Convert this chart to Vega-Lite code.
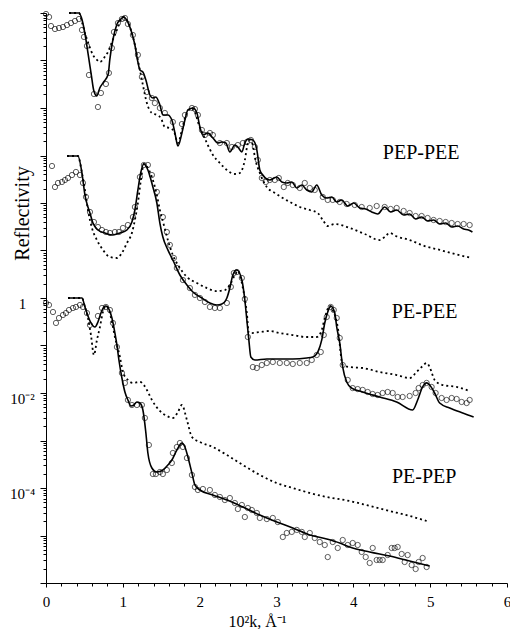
{
"$schema": "https://vega.github.io/schema/vega-lite/v6.json",
"width": 461, "height": 570,
"autosize": "none",
"padding": {"left": 46, "top": 13, "right": 3, "bottom": 46},
"background": "white",
"config": {"view": {"stroke": null},
 "axis": {"domainColor": "black", "tickColor": "black", "labelColor": "black", "titleColor": "black", "grid": false, "labelFont": "Liberation Serif", "titleFont": "Liberation Serif", "titleFontWeight": "normal", "domainWidth": 1, "tickWidth": 1}},
"resolve": {"axis": {"x": "independent", "y": "independent"}},
"datasets": {
"fit": [
{"s":"PEP-PEE","k":0.30,"r":1e6},{"s":"PEP-PEE","k":0.43,"r":1e6},{"s":"PEP-PEE","k":0.47,"r":7.13e5},{"s":"PEP-PEE","k":0.51,"r":3.44e5},{"s":"PEP-PEE","k":0.55,"r":1.31e5},{"s":"PEP-PEE","k":0.59,"r":4.95e4},{"s":"PEP-PEE","k":0.62,"r":2.39e4},{"s":"PEP-PEE","k":0.66,"r":1.79e4},{"s":"PEP-PEE","k":0.70,"r":2.64e4},{"s":"PEP-PEE","k":0.75,"r":3.52e4},{"s":"PEP-PEE","k":0.81,"r":5.2e4},{"s":"PEP-PEE","k":0.83,"r":1.03e5},{"s":"PEP-PEE","k":0.87,"r":2.7e5},{"s":"PEP-PEE","k":0.92,"r":5.58e5},{"s":"PEP-PEE","k":0.975,"r":7.48e5},{"s":"PEP-PEE","k":1.01,"r":8.24e5},{"s":"PEP-PEE","k":1.05,"r":7.13e5},{"s":"PEP-PEE","k":1.105,"r":4.39e5},{"s":"PEP-PEE","k":1.157,"r":2.12e5},{"s":"PEP-PEE","k":1.196,"r":9.3e4},{"s":"PEP-PEE","k":1.222,"r":6.31e4},{"s":"PEP-PEE","k":1.261,"r":5.73e4},{"s":"PEP-PEE","k":1.30,"r":3.88e4},{"s":"PEP-PEE","k":1.352,"r":1.88e4},{"s":"PEP-PEE","k":1.391,"r":1.62e4},{"s":"PEP-PEE","k":1.43,"r":1.71e4},{"s":"PEP-PEE","k":1.482,"r":1.16e4},{"s":"PEP-PEE","k":1.521,"r":7.13e3},{"s":"PEP-PEE","k":1.586,"r":7.13e3},{"s":"PEP-PEE","k":1.638,"r":5.58e3},{"s":"PEP-PEE","k":1.678,"r":2.98e3},{"s":"PEP-PEE","k":1.717,"r":1.58e3},{"s":"PEP-PEE","k":1.769,"r":2.98e3},{"s":"PEP-PEE","k":1.808,"r":5.58e3},{"s":"PEP-PEE","k":1.847,"r":9.08e3},{"s":"PEP-PEE","k":1.912,"r":1e4},{"s":"PEP-PEE","k":1.964,"r":7.85e3},{"s":"PEP-PEE","k":2.003,"r":3.98e3},{"s":"PEP-PEE","k":2.042,"r":2.7e3},{"s":"PEP-PEE","k":2.107,"r":2.98e3},{"s":"PEP-PEE","k":2.172,"r":2.34e3},{"s":"PEP-PEE","k":2.237,"r":1.83e3},{"s":"PEP-PEE","k":2.289,"r":1.92e3},{"s":"PEP-PEE","k":2.341,"r":1.83e3},{"s":"PEP-PEE","k":2.393,"r":1.19e3},{"s":"PEP-PEE","k":2.458,"r":1.66e3},{"s":"PEP-PEE","k":2.497,"r":1.51e3},{"s":"PEP-PEE","k":2.549,"r":1.19e3},{"s":"PEP-PEE","k":2.588,"r":1.83e3},{"s":"PEP-PEE","k":2.627,"r":2.22e3},{"s":"PEP-PEE","k":2.692,"r":2.12e3},{"s":"PEP-PEE","k":2.744,"r":1.31e3},{"s":"PEP-PEE","k":2.783,"r":495},{"s":"PEP-PEE","k":2.822,"r":388},{"s":"PEP-PEE","k":2.913,"r":305},{"s":"PEP-PEE","k":3.004,"r":352},{"s":"PEP-PEE","k":3.069,"r":277},{"s":"PEP-PEE","k":3.134,"r":264},{"s":"PEP-PEE","k":3.199,"r":277},{"s":"PEP-PEE","k":3.264,"r":207},{"s":"PEP-PEE","k":3.329,"r":239},{"s":"PEP-PEE","k":3.394,"r":188},{"s":"PEP-PEE","k":3.459,"r":171},{"s":"PEP-PEE","k":3.524,"r":239},{"s":"PEP-PEE","k":3.589,"r":147},{"s":"PEP-PEE","k":3.654,"r":127},{"s":"PEP-PEE","k":3.719,"r":134},{"s":"PEP-PEE","k":3.784,"r":105},{"s":"PEP-PEE","k":3.849,"r":116},{"s":"PEP-PEE","k":3.927,"r":86.5},{"s":"PEP-PEE","k":4.005,"r":100},{"s":"PEP-PEE","k":4.083,"r":78.5},{"s":"PEP-PEE","k":4.161,"r":74.8},{"s":"PEP-PEE","k":4.239,"r":64.7},{"s":"PEP-PEE","k":4.317,"r":58.7},{"s":"PEP-PEE","k":4.408,"r":82.4},{"s":"PEP-PEE","k":4.486,"r":64.7},{"s":"PEP-PEE","k":4.564,"r":71.3},{"s":"PEP-PEE","k":4.655,"r":55.9},{"s":"PEP-PEE","k":4.733,"r":58.7},{"s":"PEP-PEE","k":4.811,"r":46},{"s":"PEP-PEE","k":4.889,"r":50.7},{"s":"PEP-PEE","k":4.967,"r":41.8},{"s":"PEP-PEE","k":5.045,"r":43.9},{"s":"PEP-PEE","k":5.124,"r":36.1},{"s":"PEP-PEE","k":5.202,"r":37.9},{"s":"PEP-PEE","k":5.28,"r":31.2},{"s":"PEP-PEE","k":5.358,"r":32.8},{"s":"PEP-PEE","k":5.436,"r":28.4},{"s":"PEP-PEE","k":5.5,"r":27},{"s":"PEP-PEE","k":5.55,"r":24.5},
{"s":"PE-PEE","k":0.273,"r":975},{"s":"PE-PEE","k":0.416,"r":975},{"s":"PE-PEE","k":0.468,"r":428},{"s":"PE-PEE","k":0.507,"r":147},{"s":"PE-PEE","k":0.546,"r":82.4},{"s":"PE-PEE","k":0.572,"r":61.5},{"s":"PE-PEE","k":0.611,"r":37.9},{"s":"PE-PEE","k":0.676,"r":27},{"s":"PE-PEE","k":0.767,"r":23.4},{"s":"PE-PEE","k":0.871,"r":21.2},{"s":"PE-PEE","k":0.962,"r":23.4},{"s":"PE-PEE","k":1.053,"r":27},{"s":"PE-PEE","k":1.118,"r":39.8},{"s":"PE-PEE","k":1.157,"r":71.3},{"s":"PE-PEE","k":1.196,"r":188},{"s":"PE-PEE","k":1.235,"r":450},{"s":"PE-PEE","k":1.274,"r":662},{"s":"PE-PEE","k":1.326,"r":495},{"s":"PE-PEE","k":1.391,"r":217},{"s":"PE-PEE","k":1.443,"r":100},{"s":"PE-PEE","k":1.482,"r":37.9},{"s":"PE-PEE","k":1.521,"r":19.2},{"s":"PE-PEE","k":1.586,"r":10.3},{"s":"PE-PEE","k":1.651,"r":6.31},{"s":"PE-PEE","k":1.743,"r":3.05},{"s":"PE-PEE","k":1.834,"r":1.88},{"s":"PE-PEE","k":1.912,"r":1.34},{"s":"PE-PEE","k":2.029,"r":1.0},{"s":"PE-PEE","k":2.133,"r":0.785},{"s":"PE-PEE","k":2.224,"r":0.713},{"s":"PE-PEE","k":2.289,"r":0.748},{"s":"PE-PEE","k":2.354,"r":1.0},{"s":"PE-PEE","k":2.393,"r":1.62},{"s":"PE-PEE","k":2.432,"r":3.05},{"s":"PE-PEE","k":2.484,"r":3.88},{"s":"PE-PEE","k":2.549,"r":2.39},{"s":"PE-PEE","k":2.588,"r":0.908},{"s":"PE-PEE","k":2.614,"r":0.344},{"s":"PE-PEE","k":2.64,"r":0.131},{"s":"PE-PEE","k":2.666,"r":0.0573},{"s":"PE-PEE","k":2.718,"r":0.0495},{"s":"PE-PEE","k":2.874,"r":0.052},{"s":"PE-PEE","k":3.043,"r":0.052},{"s":"PE-PEE","k":3.212,"r":0.052},{"s":"PE-PEE","k":3.394,"r":0.0546},{"s":"PE-PEE","k":3.472,"r":0.0573},{"s":"PE-PEE","k":3.537,"r":0.073},{"s":"PE-PEE","k":3.589,"r":0.131},{"s":"PE-PEE","k":3.628,"r":0.298},{"s":"PE-PEE","k":3.667,"r":0.507},{"s":"PE-PEE","k":3.706,"r":0.679},{"s":"PE-PEE","k":3.758,"r":0.483},{"s":"PE-PEE","k":3.784,"r":0.245},{"s":"PE-PEE","k":3.823,"r":0.113},{"s":"PE-PEE","k":3.862,"r":0.0352},{"s":"PE-PEE","k":3.914,"r":0.0171},{"s":"PE-PEE","k":3.979,"r":0.0127},{"s":"PE-PEE","k":4.122,"r":0.0105},{"s":"PE-PEE","k":4.343,"r":0.00824},{"s":"PE-PEE","k":4.564,"r":0.00647},{"s":"PE-PEE","k":4.772,"r":0.00439},{"s":"PE-PEE","k":4.837,"r":0.00713},{"s":"PE-PEE","k":4.902,"r":0.0134},{"s":"PE-PEE","k":4.954,"r":0.0163},{"s":"PE-PEE","k":4.993,"r":0.0147},{"s":"PE-PEE","k":5.058,"r":0.01},{"s":"PE-PEE","k":5.124,"r":0.00615},{"s":"PE-PEE","k":5.254,"r":0.00483},{"s":"PE-PEE","k":5.423,"r":0.00379},{"s":"PE-PEE","k":5.566,"r":0.00313},
{"s":"PE-PEP","k":0.286,"r":1.0},{"s":"PE-PEP","k":0.468,"r":1.0},{"s":"PE-PEP","k":0.507,"r":0.647},{"s":"PE-PEP","k":0.546,"r":0.418},{"s":"PE-PEP","k":0.585,"r":0.298},{"s":"PE-PEP","k":0.637,"r":0.245},{"s":"PE-PEP","k":0.676,"r":0.313},{"s":"PE-PEP","k":0.715,"r":0.483},{"s":"PE-PEP","k":0.754,"r":0.647},{"s":"PE-PEP","k":0.78,"r":0.679},{"s":"PE-PEP","k":0.819,"r":0.586},{"s":"PE-PEP","k":0.858,"r":0.379},{"s":"PE-PEP","k":0.897,"r":0.183},{"s":"PE-PEP","k":0.923,"r":0.1025},{"s":"PE-PEP","k":0.949,"r":0.0495},{"s":"PE-PEP","k":0.988,"r":0.0207},{"s":"PE-PEP","k":1.027,"r":0.0105},{"s":"PE-PEP","k":1.066,"r":0.00713},{"s":"PE-PEP","k":1.105,"r":0.00532},{"s":"PE-PEP","k":1.144,"r":0.00559},{"s":"PE-PEP","k":1.183,"r":0.00647},{"s":"PE-PEP","k":1.222,"r":0.00615},{"s":"PE-PEP","k":1.261,"r":0.00439},{"s":"PE-PEP","k":1.30,"r":0.00144},{"s":"PE-PEP","k":1.326,"r":0.000546},{"s":"PE-PEP","k":1.378,"r":0.000264},{"s":"PE-PEP","k":1.443,"r":0.000217},{"s":"PE-PEP","k":1.521,"r":0.000239},{"s":"PE-PEP","k":1.586,"r":0.000305},{"s":"PE-PEP","k":1.638,"r":0.000388},{"s":"PE-PEP","k":1.703,"r":0.000631},{"s":"PE-PEP","k":1.769,"r":0.000886},{"s":"PE-PEP","k":1.808,"r":0.00073},{"s":"PE-PEP","k":1.847,"r":0.00045},{"s":"PE-PEP","k":1.899,"r":0.000207},{"s":"PE-PEP","k":1.938,"r":0.000116},{"s":"PE-PEP","k":2.003,"r":9.08e-5},{"s":"PE-PEP","k":2.172,"r":7.13e-5},{"s":"PE-PEP","k":2.354,"r":5.58e-5},{"s":"PE-PEP","k":2.562,"r":3.98e-5},{"s":"PE-PEP","k":2.783,"r":2.7e-5},{"s":"PE-PEP","k":3.004,"r":1.92e-5},{"s":"PE-PEP","k":3.212,"r":1.44e-5},{"s":"PE-PEP","k":3.433,"r":1.03e-5},{"s":"PE-PEP","k":3.654,"r":8.44e-6},{"s":"PE-PEP","k":3.823,"r":6.95e-6},{"s":"PE-PEP","k":3.953,"r":5.73e-6},{"s":"PE-PEP","k":4.213,"r":4.5e-6},{"s":"PE-PEP","k":4.473,"r":3.7e-6},{"s":"PE-PEP","k":4.733,"r":2.9e-6},{"s":"PE-PEP","k":4.993,"r":2.28e-6}
],
"model": [
{"s":"PEP-PEE","k":0.30,"r":1e6},{"s":"PEP-PEE","k":0.43,"r":1e6},{"s":"PEP-PEE","k":0.468,"r":6.47e5},{"s":"PEP-PEE","k":0.507,"r":3.79e5},{"s":"PEP-PEE","k":0.559,"r":2.12e5},{"s":"PEP-PEE","k":0.611,"r":1.31e5},{"s":"PEP-PEE","k":0.663,"r":1.03e5},{"s":"PEP-PEE","k":0.702,"r":9.3e4},{"s":"PEP-PEE","k":0.754,"r":1.13e5},{"s":"PEP-PEE","k":0.806,"r":1.51e5},{"s":"PEP-PEE","k":0.858,"r":2.45e5},{"s":"PEP-PEE","k":0.923,"r":4.39e5},{"s":"PEP-PEE","k":0.975,"r":7.13e5},{"s":"PEP-PEE","k":1.014,"r":8.24e5},{"s":"PEP-PEE","k":1.053,"r":7.13e5},{"s":"PEP-PEE","k":1.105,"r":4.39e5},{"s":"PEP-PEE","k":1.157,"r":2.12e5},{"s":"PEP-PEE","k":1.209,"r":8.04e4},{"s":"PEP-PEE","k":1.261,"r":3.05e4},{"s":"PEP-PEE","k":1.313,"r":1.27e4},{"s":"PEP-PEE","k":1.378,"r":7.85e3},{"s":"PEP-PEE","k":1.443,"r":7.13e3},{"s":"PEP-PEE","k":1.495,"r":6.15e3},{"s":"PEP-PEE","k":1.547,"r":3.98e3},{"s":"PEP-PEE","k":1.612,"r":3.79e3},{"s":"PEP-PEE","k":1.664,"r":3.28e3},{"s":"PEP-PEE","k":1.717,"r":1.83e3},{"s":"PEP-PEE","k":1.769,"r":3.44e3},{"s":"PEP-PEE","k":1.808,"r":6.15e3},{"s":"PEP-PEE","k":1.86,"r":9.08e3},{"s":"PEP-PEE","k":1.899,"r":1e4},{"s":"PEP-PEE","k":1.951,"r":7.13e3},{"s":"PEP-PEE","k":1.99,"r":4.39e3},{"s":"PEP-PEE","k":2.029,"r":3.13e3},{"s":"PEP-PEE","k":2.094,"r":1.83e3},{"s":"PEP-PEE","k":2.172,"r":1.03e3},{"s":"PEP-PEE","k":2.263,"r":695},{"s":"PEP-PEE","k":2.354,"r":495},{"s":"PEP-PEE","k":2.458,"r":408},{"s":"PEP-PEE","k":2.523,"r":428},{"s":"PEP-PEE","k":2.588,"r":804},{"s":"PEP-PEE","k":2.627,"r":1.83e3},{"s":"PEP-PEE","k":2.653,"r":2.12e3},{"s":"PEP-PEE","k":2.692,"r":1.66e3},{"s":"PEP-PEE","k":2.718,"r":929},{"s":"PEP-PEE","k":2.783,"r":428},{"s":"PEP-PEE","k":2.874,"r":217},{"s":"PEP-PEE","k":2.978,"r":163},{"s":"PEP-PEE","k":3.082,"r":127},{"s":"PEP-PEE","k":3.199,"r":100},{"s":"PEP-PEE","k":3.303,"r":82.4},{"s":"PEP-PEE","k":3.433,"r":71.3},{"s":"PEP-PEE","k":3.537,"r":61.5},{"s":"PEP-PEE","k":3.602,"r":43.9},{"s":"PEP-PEE","k":3.667,"r":32.8},{"s":"PEP-PEE","k":3.758,"r":36.1},{"s":"PEP-PEE","k":3.953,"r":29.8},{"s":"PEP-PEE","k":4.148,"r":22.3},{"s":"PEP-PEE","k":4.343,"r":16.6},{"s":"PEP-PEE","k":4.408,"r":19.2},{"s":"PEP-PEE","k":4.473,"r":23.4},{"s":"PEP-PEE","k":4.551,"r":20.2},{"s":"PEP-PEE","k":4.733,"r":16.6},{"s":"PEP-PEE","k":4.928,"r":12.4},{"s":"PEP-PEE","k":5.124,"r":10.3},{"s":"PEP-PEE","k":5.319,"r":8.44},{"s":"PEP-PEE","k":5.54,"r":6.95},
{"s":"PE-PEE","k":0.273,"r":975},{"s":"PE-PEE","k":0.416,"r":975},{"s":"PE-PEE","k":0.468,"r":428},{"s":"PE-PEE","k":0.507,"r":188},{"s":"PE-PEE","k":0.546,"r":71.3},{"s":"PE-PEE","k":0.598,"r":29.8},{"s":"PE-PEE","k":0.663,"r":16.6},{"s":"PE-PEE","k":0.741,"r":10.3},{"s":"PE-PEE","k":0.832,"r":7.29},{"s":"PE-PEE","k":0.923,"r":6.95},{"s":"PE-PEE","k":0.988,"r":8.86},{"s":"PE-PEE","k":1.053,"r":14.4},{"s":"PE-PEE","k":1.118,"r":23.4},{"s":"PE-PEE","k":1.157,"r":43.9},{"s":"PE-PEE","k":1.196,"r":100},{"s":"PE-PEE","k":1.235,"r":305},{"s":"PE-PEE","k":1.274,"r":662},{"s":"PE-PEE","k":1.326,"r":546},{"s":"PE-PEE","k":1.391,"r":305},{"s":"PE-PEE","k":1.443,"r":147},{"s":"PE-PEE","k":1.482,"r":71.3},{"s":"PE-PEE","k":1.534,"r":34.4},{"s":"PE-PEE","k":1.586,"r":16.6},{"s":"PE-PEE","k":1.651,"r":8.04},{"s":"PE-PEE","k":1.743,"r":4.28},{"s":"PE-PEE","k":1.834,"r":2.77},{"s":"PE-PEE","k":1.964,"r":2.07},{"s":"PE-PEE","k":2.094,"r":1.62},{"s":"PE-PEE","k":2.224,"r":1.4},{"s":"PE-PEE","k":2.328,"r":1.47},{"s":"PE-PEE","k":2.393,"r":1.88},{"s":"PE-PEE","k":2.458,"r":3.05},{"s":"PE-PEE","k":2.497,"r":3.7},{"s":"PE-PEE","k":2.562,"r":1.62},{"s":"PE-PEE","k":2.614,"r":0.483},{"s":"PE-PEE","k":2.64,"r":0.183},{"s":"PE-PEE","k":2.679,"r":0.183},{"s":"PE-PEE","k":2.783,"r":0.192},{"s":"PE-PEE","k":2.913,"r":0.202},{"s":"PE-PEE","k":3.043,"r":0.183},{"s":"PE-PEE","k":3.212,"r":0.166},{"s":"PE-PEE","k":3.394,"r":0.151},{"s":"PE-PEE","k":3.524,"r":0.151},{"s":"PE-PEE","k":3.589,"r":0.212},{"s":"PE-PEE","k":3.628,"r":0.379},{"s":"PE-PEE","k":3.693,"r":0.679},{"s":"PE-PEE","k":3.732,"r":0.559},{"s":"PE-PEE","k":3.797,"r":0.245},{"s":"PE-PEE","k":3.862,"r":0.0388},{"s":"PE-PEE","k":3.953,"r":0.0352},{"s":"PE-PEE","k":4.122,"r":0.0336},{"s":"PE-PEE","k":4.343,"r":0.0277},{"s":"PE-PEE","k":4.564,"r":0.0239},{"s":"PE-PEE","k":4.733,"r":0.0207},{"s":"PE-PEE","k":4.824,"r":0.0277},{"s":"PE-PEE","k":4.889,"r":0.0352},{"s":"PE-PEE","k":4.954,"r":0.0428},{"s":"PE-PEE","k":4.993,"r":0.0352},{"s":"PE-PEE","k":5.058,"r":0.0188},{"s":"PE-PEE","k":5.162,"r":0.0147},{"s":"PE-PEE","k":5.345,"r":0.0134},{"s":"PE-PEE","k":5.514,"r":0.011},
{"s":"PE-PEP","k":0.286,"r":1.0},{"s":"PE-PEP","k":0.468,"r":1.0},{"s":"PE-PEP","k":0.507,"r":0.647},{"s":"PE-PEP","k":0.546,"r":0.379},{"s":"PE-PEP","k":0.585,"r":0.166},{"s":"PE-PEP","k":0.624,"r":0.0631},{"s":"PE-PEP","k":0.663,"r":0.131},{"s":"PE-PEP","k":0.702,"r":0.245},{"s":"PE-PEP","k":0.741,"r":0.507},{"s":"PE-PEP","k":0.78,"r":0.679},{"s":"PE-PEP","k":0.819,"r":0.559},{"s":"PE-PEP","k":0.858,"r":0.313},{"s":"PE-PEP","k":0.897,"r":0.151},{"s":"PE-PEP","k":0.962,"r":0.0573},{"s":"PE-PEP","k":1.001,"r":0.0277},{"s":"PE-PEP","k":1.066,"r":0.0188},{"s":"PE-PEP","k":1.131,"r":0.0163},{"s":"PE-PEP","k":1.222,"r":0.0171},{"s":"PE-PEP","k":1.274,"r":0.0147},{"s":"PE-PEP","k":1.313,"r":0.0116},{"s":"PE-PEP","k":1.378,"r":0.00713},{"s":"PE-PEP","k":1.482,"r":0.00418},{"s":"PE-PEP","k":1.573,"r":0.00328},{"s":"PE-PEP","k":1.651,"r":0.00298},{"s":"PE-PEP","k":1.717,"r":0.00398},{"s":"PE-PEP","k":1.769,"r":0.00559},{"s":"PE-PEP","k":1.834,"r":0.0027},{"s":"PE-PEP","k":1.899,"r":0.00119},{"s":"PE-PEP","k":2.003,"r":0.000929},{"s":"PE-PEP","k":2.172,"r":0.00073},{"s":"PE-PEP","k":2.354,"r":0.000495},{"s":"PE-PEP","k":2.562,"r":0.000305},{"s":"PE-PEP","k":2.783,"r":0.000188},{"s":"PE-PEP","k":3.004,"r":0.000127},{"s":"PE-PEP","k":3.212,"r":0.0001},{"s":"PE-PEP","k":3.433,"r":7.85e-5},{"s":"PE-PEP","k":3.654,"r":6.47e-5},{"s":"PE-PEP","k":3.953,"r":5.32e-5},{"s":"PE-PEP","k":4.213,"r":4.18e-5},{"s":"PE-PEP","k":4.473,"r":3.28e-5},{"s":"PE-PEP","k":4.733,"r":2.58e-5},{"s":"PE-PEP","k":4.954,"r":2.02e-5}
],
"obs": [
{"s":"PEP-PEE","k":0.0,"r":9.53e5},{"s":"PEP-PEE","k":0.04,"r":8.24e5},{"s":"PEP-PEE","k":0.065,"r":5.32e5},{"s":"PEP-PEE","k":0.117,"r":4.6e5},{"s":"PEP-PEE","k":0.169,"r":4.83e5},{"s":"PEP-PEE","k":0.221,"r":5.07e5},{"s":"PEP-PEE","k":0.273,"r":5.58e5},{"s":"PEP-PEE","k":0.325,"r":6.15e5},{"s":"PEP-PEE","k":0.377,"r":6.79e5},{"s":"PEP-PEE","k":0.429,"r":7.48e5},{"s":"PEP-PEE","k":0.468,"r":4.39e5},{"s":"PEP-PEE","k":0.494,"r":3.13e5},{"s":"PEP-PEE","k":0.533,"r":2.02e5},{"s":"PEP-PEE","k":0.559,"r":4.95e4},{"s":"PEP-PEE","k":0.624,"r":1.97e4},{"s":"PEP-PEE","k":0.676,"r":1.05e4},{"s":"PEP-PEE","k":0.715,"r":2.07e4},{"s":"PEP-PEE","k":0.78,"r":3.2e4},{"s":"PEP-PEE","k":0.819,"r":5.46e4},{"s":"PEP-PEE","k":0.858,"r":1.83e5},{"s":"PEP-PEE","k":0.884,"r":3.98e5},{"s":"PEP-PEE","k":0.936,"r":6.15e5},{"s":"PEP-PEE","k":0.988,"r":7.48e5},{"s":"PEP-PEE","k":1.027,"r":7.85e5},{"s":"PEP-PEE","k":1.066,"r":5.86e5},{"s":"PEP-PEE","k":1.131,"r":3.44e5},{"s":"PEP-PEE","k":1.196,"r":1.31e5},{"s":"PEP-PEE","k":1.248,"r":4.5e4},{"s":"PEP-PEE","k":1.313,"r":2.17e4},{"s":"PEP-PEE","k":1.378,"r":1.62e4},{"s":"PEP-PEE","k":1.417,"r":1.27e4},{"s":"PEP-PEE","k":1.482,"r":1e4},{"s":"PEP-PEE","k":1.547,"r":7.85e3},{"s":"PEP-PEE","k":1.651,"r":5.07e3},{"s":"PEP-PEE","k":1.769,"r":4.6e3},{"s":"PEP-PEE","k":1.808,"r":7.13e3},{"s":"PEP-PEE","k":1.899,"r":1e4},{"s":"PEP-PEE","k":1.938,"r":9.53e3},{"s":"PEP-PEE","k":1.977,"r":7.13e3},{"s":"PEP-PEE","k":2.029,"r":3.44e3},{"s":"PEP-PEE","k":2.068,"r":2.7e3},{"s":"PEP-PEE","k":2.133,"r":2.98e3},{"s":"PEP-PEE","k":2.172,"r":2.7e3},{"s":"PEP-PEE","k":2.263,"r":1.83e3},{"s":"PEP-PEE","k":2.354,"r":1.83e3},{"s":"PEP-PEE","k":2.419,"r":1.51e3},{"s":"PEP-PEE","k":2.497,"r":1.66e3},{"s":"PEP-PEE","k":2.562,"r":1.83e3},{"s":"PEP-PEE","k":2.614,"r":1.92e3},{"s":"PEP-PEE","k":2.666,"r":2.12e3},{"s":"PEP-PEE","k":2.718,"r":1.51e3},{"s":"PEP-PEE","k":2.757,"r":804},{"s":"PEP-PEE","k":2.809,"r":336},{"s":"PEP-PEE","k":2.861,"r":277},{"s":"PEP-PEE","k":2.913,"r":305},{"s":"PEP-PEE","k":2.978,"r":305},{"s":"PEP-PEE","k":3.03,"r":336},{"s":"PEP-PEE","k":3.095,"r":217},{"s":"PEP-PEE","k":3.147,"r":264},{"s":"PEP-PEE","k":3.212,"r":239},{"s":"PEP-PEE","k":3.303,"r":207},{"s":"PEP-PEE","k":3.368,"r":264},{"s":"PEP-PEE","k":3.433,"r":207},{"s":"PEP-PEE","k":3.498,"r":188},{"s":"PEP-PEE","k":3.602,"r":134},{"s":"PEP-PEE","k":3.667,"r":116},{"s":"PEP-PEE","k":3.732,"r":116},{"s":"PEP-PEE","k":3.823,"r":105},{"s":"PEP-PEE","k":3.914,"r":95.3},{"s":"PEP-PEE","k":4.018,"r":90.8},{"s":"PEP-PEE","k":4.109,"r":82.4},{"s":"PEP-PEE","k":4.213,"r":78.5},{"s":"PEP-PEE","k":4.304,"r":86.5},{"s":"PEP-PEE","k":4.408,"r":82.4},{"s":"PEP-PEE","k":4.486,"r":74.8},{"s":"PEP-PEE","k":4.564,"r":78.5},{"s":"PEP-PEE","k":4.655,"r":67.9},{"s":"PEP-PEE","k":4.733,"r":61.5},{"s":"PEP-PEE","k":4.811,"r":53.2},{"s":"PEP-PEE","k":4.889,"r":53.2},{"s":"PEP-PEE","k":4.967,"r":48.3},{"s":"PEP-PEE","k":5.045,"r":43.9},{"s":"PEP-PEE","k":5.124,"r":41.8},{"s":"PEP-PEE","k":5.202,"r":39.8},{"s":"PEP-PEE","k":5.28,"r":37.9},{"s":"PEP-PEE","k":5.358,"r":36.1},{"s":"PEP-PEE","k":5.436,"r":36.1},{"s":"PEP-PEE","k":5.514,"r":34.4},
{"s":"PE-PEE","k":0.078,"r":601},{"s":"PE-PEE","k":0.117,"r":217},{"s":"PE-PEE","k":0.156,"r":264},{"s":"PE-PEE","k":0.208,"r":277},{"s":"PE-PEE","k":0.247,"r":305},{"s":"PE-PEE","k":0.286,"r":336},{"s":"PE-PEE","k":0.338,"r":388},{"s":"PE-PEE","k":0.39,"r":450},{"s":"PE-PEE","k":0.442,"r":388},{"s":"PE-PEE","k":0.481,"r":264},{"s":"PE-PEE","k":0.52,"r":134},{"s":"PE-PEE","k":0.572,"r":64.7},{"s":"PE-PEE","k":0.624,"r":39.8},{"s":"PE-PEE","k":0.676,"r":31.2},{"s":"PE-PEE","k":0.728,"r":27},{"s":"PE-PEE","k":0.78,"r":24.5},{"s":"PE-PEE","k":0.832,"r":23.4},{"s":"PE-PEE","k":0.897,"r":24.5},{"s":"PE-PEE","k":0.949,"r":24.5},{"s":"PE-PEE","k":1.001,"r":29.8},{"s":"PE-PEE","k":1.066,"r":34.4},{"s":"PE-PEE","k":1.131,"r":50.7},{"s":"PE-PEE","k":1.157,"r":82.4},{"s":"PE-PEE","k":1.222,"r":352},{"s":"PE-PEE","k":1.274,"r":631},{"s":"PE-PEE","k":1.326,"r":631},{"s":"PE-PEE","k":1.378,"r":388},{"s":"PE-PEE","k":1.443,"r":171},{"s":"PE-PEE","k":1.521,"r":50.7},{"s":"PE-PEE","k":1.573,"r":24.5},{"s":"PE-PEE","k":1.612,"r":13.1},{"s":"PE-PEE","k":1.664,"r":6.95},{"s":"PE-PEE","k":1.703,"r":4.28},{"s":"PE-PEE","k":1.782,"r":2.39},{"s":"PE-PEE","k":1.873,"r":1.62},{"s":"PE-PEE","k":1.938,"r":1.16},{"s":"PE-PEE","k":2.003,"r":1.0},{"s":"PE-PEE","k":2.068,"r":0.824},{"s":"PE-PEE","k":2.133,"r":0.647},{"s":"PE-PEE","k":2.198,"r":0.616},{"s":"PE-PEE","k":2.263,"r":0.616},{"s":"PE-PEE","k":2.354,"r":0.785},{"s":"PE-PEE","k":2.406,"r":1.71},{"s":"PE-PEE","k":2.445,"r":3.36},{"s":"PE-PEE","k":2.484,"r":3.52},{"s":"PE-PEE","k":2.549,"r":2.64},{"s":"PE-PEE","k":2.588,"r":0.953},{"s":"PE-PEE","k":2.627,"r":0.151},{"s":"PE-PEE","k":2.692,"r":0.0352},{"s":"PE-PEE","k":2.744,"r":0.0336},{"s":"PE-PEE","k":2.809,"r":0.0388},{"s":"PE-PEE","k":2.874,"r":0.0428},{"s":"PE-PEE","k":2.952,"r":0.045},{"s":"PE-PEE","k":3.043,"r":0.0428},{"s":"PE-PEE","k":3.134,"r":0.0428},{"s":"PE-PEE","k":3.212,"r":0.0408},{"s":"PE-PEE","k":3.303,"r":0.0428},{"s":"PE-PEE","k":3.394,"r":0.0428},{"s":"PE-PEE","k":3.459,"r":0.0495},{"s":"PE-PEE","k":3.524,"r":0.0631},{"s":"PE-PEE","k":3.576,"r":0.073},{"s":"PE-PEE","k":3.615,"r":0.166},{"s":"PE-PEE","k":3.654,"r":0.398},{"s":"PE-PEE","k":3.706,"r":0.647},{"s":"PE-PEE","k":3.745,"r":0.559},{"s":"PE-PEE","k":3.784,"r":0.379},{"s":"PE-PEE","k":3.823,"r":0.144},{"s":"PE-PEE","k":3.862,"r":0.0388},{"s":"PE-PEE","k":3.927,"r":0.0188},{"s":"PE-PEE","k":3.992,"r":0.0127},{"s":"PE-PEE","k":4.057,"r":0.0121},{"s":"PE-PEE","k":4.122,"r":0.0116},{"s":"PE-PEE","k":4.187,"r":0.0105},{"s":"PE-PEE","k":4.252,"r":0.00953},{"s":"PE-PEE","k":4.317,"r":0.00908},{"s":"PE-PEE","k":4.382,"r":0.01},{"s":"PE-PEE","k":4.447,"r":0.0105},{"s":"PE-PEE","k":4.512,"r":0.01},{"s":"PE-PEE","k":4.577,"r":0.00824},{"s":"PE-PEE","k":4.642,"r":0.00824},{"s":"PE-PEE","k":4.733,"r":0.00865},{"s":"PE-PEE","k":4.811,"r":0.01},{"s":"PE-PEE","k":4.85,"r":0.0127},{"s":"PE-PEE","k":4.902,"r":0.0147},{"s":"PE-PEE","k":4.954,"r":0.0163},{"s":"PE-PEE","k":5.019,"r":0.0134},{"s":"PE-PEE","k":5.071,"r":0.01},{"s":"PE-PEE","k":5.149,"r":0.00785},{"s":"PE-PEE","k":5.214,"r":0.00713},{"s":"PE-PEE","k":5.28,"r":0.00785},{"s":"PE-PEE","k":5.345,"r":0.00748},{"s":"PE-PEE","k":5.41,"r":0.00647},{"s":"PE-PEE","k":5.475,"r":0.00615},{"s":"PE-PEE","k":5.514,"r":0.00713},
{"s":"PE-PEP","k":0.0,"r":0.785},{"s":"PE-PEP","k":0.039,"r":0.713},{"s":"PE-PEP","k":0.091,"r":0.507},{"s":"PE-PEP","k":0.13,"r":0.298},{"s":"PE-PEP","k":0.169,"r":0.379},{"s":"PE-PEP","k":0.221,"r":0.439},{"s":"PE-PEP","k":0.26,"r":0.483},{"s":"PE-PEP","k":0.299,"r":0.559},{"s":"PE-PEP","k":0.351,"r":0.616},{"s":"PE-PEP","k":0.39,"r":0.647},{"s":"PE-PEP","k":0.442,"r":0.713},{"s":"PE-PEP","k":0.481,"r":0.647},{"s":"PE-PEP","k":0.533,"r":0.483},{"s":"PE-PEP","k":0.572,"r":0.27},{"s":"PE-PEP","k":0.676,"r":0.418},{"s":"PE-PEP","k":0.728,"r":0.616},{"s":"PE-PEP","k":0.78,"r":0.647},{"s":"PE-PEP","k":0.832,"r":0.559},{"s":"PE-PEP","k":0.871,"r":0.298},{"s":"PE-PEP","k":0.923,"r":0.0929},{"s":"PE-PEP","k":0.988,"r":0.0264},{"s":"PE-PEP","k":1.027,"r":0.0163},{"s":"PE-PEP","k":1.066,"r":0.00713},{"s":"PE-PEP","k":1.118,"r":0.00559},{"s":"PE-PEP","k":1.183,"r":0.00559},{"s":"PE-PEP","k":1.248,"r":0.00559},{"s":"PE-PEP","k":1.287,"r":0.00298},{"s":"PE-PEP","k":1.339,"r":0.000804},{"s":"PE-PEP","k":1.391,"r":0.000197},{"s":"PE-PEP","k":1.43,"r":0.000197},{"s":"PE-PEP","k":1.482,"r":0.000217},{"s":"PE-PEP","k":1.521,"r":0.000197},{"s":"PE-PEP","k":1.573,"r":0.000239},{"s":"PE-PEP","k":1.638,"r":0.000336},{"s":"PE-PEP","k":1.651,"r":0.000546},{"s":"PE-PEP","k":1.703,"r":0.00073},{"s":"PE-PEP","k":1.743,"r":0.000886},{"s":"PE-PEP","k":1.782,"r":0.00073},{"s":"PE-PEP","k":1.834,"r":0.000428},{"s":"PE-PEP","k":1.899,"r":0.000188},{"s":"PE-PEP","k":1.938,"r":0.000105},{"s":"PE-PEP","k":1.977,"r":9.08e-5},{"s":"PE-PEP","k":2.042,"r":9.53e-5},{"s":"PE-PEP","k":2.133,"r":9.08e-5},{"s":"PE-PEP","k":2.198,"r":7.13e-5},{"s":"PE-PEP","k":2.263,"r":6.47e-5},{"s":"PE-PEP","k":2.328,"r":5.58e-5},{"s":"PE-PEP","k":2.393,"r":6.15e-5},{"s":"PE-PEP","k":2.458,"r":4.83e-5},{"s":"PE-PEP","k":2.497,"r":3.61e-5},{"s":"PE-PEP","k":2.549,"r":4.39e-5},{"s":"PE-PEP","k":2.588,"r":2.45e-5},{"s":"PE-PEP","k":2.627,"r":3.79e-5},{"s":"PE-PEP","k":2.679,"r":3.44e-5},{"s":"PE-PEP","k":2.744,"r":2.98e-5},{"s":"PE-PEP","k":2.783,"r":2.34e-5},{"s":"PE-PEP","k":2.874,"r":2.22e-5},{"s":"PE-PEP","k":2.952,"r":2.34e-5},{"s":"PE-PEP","k":3.017,"r":1.92e-5},{"s":"PE-PEP","k":3.082,"r":9.3e-6},{"s":"PE-PEP","k":3.134,"r":1.13e-5},{"s":"PE-PEP","k":3.199,"r":1.19e-5},{"s":"PE-PEP","k":3.264,"r":1.31e-5},{"s":"PE-PEP","k":3.329,"r":1.19e-5},{"s":"PE-PEP","k":3.368,"r":9.3e-6},{"s":"PE-PEP","k":3.433,"r":1.13e-5},{"s":"PE-PEP","k":3.498,"r":8.86e-6},{"s":"PE-PEP","k":3.563,"r":7.29e-6},{"s":"PE-PEP","k":3.628,"r":6.31e-6},{"s":"PE-PEP","k":3.667,"r":3.52e-6},{"s":"PE-PEP","k":3.732,"r":7.29e-6},{"s":"PE-PEP","k":3.797,"r":5.46e-6},{"s":"PE-PEP","k":3.862,"r":8.04e-6},{"s":"PE-PEP","k":3.927,"r":6.31e-6},{"s":"PE-PEP","k":3.992,"r":6.95e-6},{"s":"PE-PEP","k":4.057,"r":6.31e-6},{"s":"PE-PEP","k":4.109,"r":4.5e-6},{"s":"PE-PEP","k":4.161,"r":3.52e-6},{"s":"PE-PEP","k":4.213,"r":2.64e-6},{"s":"PE-PEP","k":4.252,"r":5.46e-6},{"s":"PE-PEP","k":4.304,"r":3.05e-6},{"s":"PE-PEP","k":4.343,"r":3.05e-6},{"s":"PE-PEP","k":4.382,"r":3.05e-6},{"s":"PE-PEP","k":4.447,"r":3.88e-6},{"s":"PE-PEP","k":4.499,"r":5.46e-6},{"s":"PE-PEP","k":4.538,"r":5.46e-6},{"s":"PE-PEP","k":4.577,"r":5.73e-6},{"s":"PE-PEP","k":4.629,"r":4.08e-6},{"s":"PE-PEP","k":4.668,"r":2.77e-6},{"s":"PE-PEP","k":4.707,"r":3.88e-6},{"s":"PE-PEP","k":4.759,"r":2.39e-6},{"s":"PE-PEP","k":4.811,"r":1.97e-6},{"s":"PE-PEP","k":4.85,"r":2.77e-6},{"s":"PE-PEP","k":4.902,"r":3.36e-6},{"s":"PE-PEP","k":4.954,"r":2.17e-6}
],
"labels": [
{"label":"PEP-PEE","k":4.883,"r":1130},
{"label":"PE-PEE","k":4.928,"r":0.507},
{"label":"PE-PEP","k":4.922,"r":1.71e-4}
]
},
"layer": [
{"data": {"name": "fit"},
 "mark": {"type": "line", "color": "black", "strokeWidth": 1.6, "interpolate": "monotone"},
 "encoding": {
  "x": {"field": "k", "type": "quantitative", "scale": {"domain": [0, 6], "nice": false, "zero": false},
   "axis": {"orient": "bottom", "values": [0,1,2,3,4,5,6], "format": "d", "tickSize": 4, "labelPadding": 7, "labelFontSize": 15, "labelFlush": false, "labelBound": false, "labelOverlap": false,
    "title": "10²k, Å⁻¹", "titleFontSize": 16, "titleX": 211, "titleY": 43, "titleBaseline": "alphabetic", "titleAlign": "center", "titleAnchor": null}},
  "y": {"field": "r", "type": "quantitative", "scale": {"type": "log", "domain": [1e-6, 1e6], "nice": false},
   "axis": {"orient": "left", "values": [1e-6,1e-5,1e-4,0.001,0.01,0.1,1,10,100,1000,1e4,1e5,1e6], "tickSize": 6, "labelAlign": "center", "labelPadding": 18, "labelBaseline": "top", "labelOffset": -2, "labelFontSize": 15, "labelOverlap": false, "labelFlush": false, "labelBound": false,
    "labelExpr": "round(log(datum.value)/LN10) == 0 ? '1' : (round(log(datum.value)/LN10) == -2 ? '10⁻²' : (round(log(datum.value)/LN10) == -4 ? '10⁻⁴' : ''))",
    "title": "Reflectivity", "titleFontSize": 20, "titleAngle": -90, "titleX": -18, "titleY": 200, "titleAlign": "center", "titleBaseline": "alphabetic"}},
  "detail": {"field": "s"}
 }},
{"data": {"name": "model"},
 "mark": {"type": "line", "color": "black", "strokeWidth": 1.8, "strokeDash": [2, 3], "interpolate": "monotone"},
 "encoding": {
  "x": {"field": "k", "type": "quantitative",
   "axis": {"orient": "bottom", "values": [0.2,0.4,0.6,0.8,1.2,1.4,1.6,1.8,2.2,2.4,2.6,2.8,3.2,3.4,3.6,3.8,4.2,4.4,4.6,4.8,5.2,5.4,5.6,5.8], "tickSize": 3, "labels": false, "domain": false, "title": null}},
  "y": {"field": "r", "type": "quantitative",
   "axis": {"orient": "left", "values": [2e-6,3e-6,4e-6,5e-6,6e-6,7e-6,8e-6,9e-6,2e-5,3e-5,4e-5,5e-5,6e-5,7e-5,8e-5,9e-5,2e-4,3e-4,4e-4,5e-4,6e-4,7e-4,8e-4,9e-4,0.002,0.003,0.004,0.005,0.006,0.007,0.008,0.009,0.02,0.03,0.04,0.05,0.06,0.07,0.08,0.09,0.2,0.3,0.4,0.5,0.6,0.7,0.8,0.9,2,3,4,5,6,7,8,9,20,30,40,50,60,70,80,90,200,300,400,500,600,700,800,900,2000,3000,4000,5000,6000,7000,8000,9000,2e4,3e4,4e4,5e4,6e4,7e4,8e4,9e4,2e5,3e5,4e5,5e5,6e5,7e5,8e5,9e5], "tickSize": 3, "labels": false, "domain": false, "title": null}},
  "detail": {"field": "s"}
 }},
{"data": {"name": "obs"},
 "mark": {"type": "point", "shape": "circle", "filled": false, "color": "black", "size": 28, "strokeWidth": 0.9},
 "encoding": {
  "x": {"field": "k", "type": "quantitative", "axis": null},
  "y": {"field": "r", "type": "quantitative", "axis": null}
 }},
{"data": {"name": "labels"},
 "mark": {"type": "text", "font": "Liberation Serif", "fontSize": 20, "color": "black", "align": "center", "baseline": "middle"},
 "encoding": {
  "x": {"field": "k", "type": "quantitative", "axis": null},
  "y": {"field": "r", "type": "quantitative", "axis": null},
  "text": {"field": "label"}
 }}
]
}
